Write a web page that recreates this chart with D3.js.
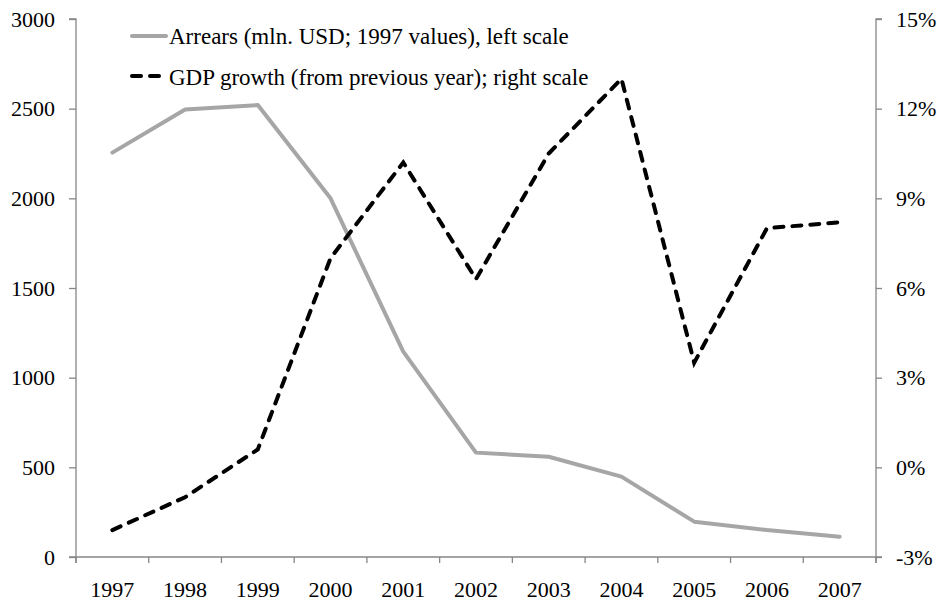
<!DOCTYPE html>
<html><head><meta charset="utf-8">
<script src="https://cdn.jsdelivr.net/npm/d3@7"></script>
<style>body{margin:0;background:#fff}svg{display:block}text{font-family:"Liberation Serif","Times New Roman",serif}</style>
</head><body>
<script>
const years = ["1997","1998","1999","2000","2001","2002","2003","2004","2005","2006","2007"];
const arrears = [2255, 2495, 2520, 2000, 1145, 582, 559, 448, 197, 150, 113];
const gdpGrowth = [-2.1, -1.0, 0.6, 7.0, 10.2, 6.3, 10.5, 13.0, 3.5, 8.0, 8.2];
const leftTicks = [0, 500, 1000, 1500, 2000, 2500, 3000];
const rightTicks = [-3, 0, 3, 6, 9, 12, 15];
const legendLabels = ["Arrears (mln. USD; 1997 values), left scale", "GDP growth (from previous year); right scale"];

const W = 937, H = 603;
const m = {l: 76, r: 876, t: 19, b: 557};
const axisColor = "#868686";
const svg = d3.select("body").append("svg").attr("width", W).attr("height", H);

const x = d3.scaleBand().domain(years).range([m.l, m.r]).padding(0);
const yL = d3.scaleLinear().domain([0, 3000]).range([m.b, m.t]);
const yR = d3.scaleLinear().domain([-3, 15]).range([m.b, m.t]);

const gL = svg.append("g").attr("transform", `translate(${m.l},0)`)
  .call(d3.axisLeft(yL).tickValues(leftTicks).tickSize(7).tickPadding(14).tickFormat(d3.format("d")));
const gR = svg.append("g").attr("transform", `translate(${m.r},0)`)
  .call(d3.axisRight(yR).tickValues(rightTicks).tickSize(6).tickPadding(14).tickFormat(d => d + "%"));
const gB = svg.append("g").attr("transform", `translate(0,${m.b})`)
  .call(d3.axisBottom(x).tickSize(0).tickPadding(24));
[gL, gR, gB].forEach(g => {
  g.select(".domain").attr("stroke", axisColor).attr("stroke-width", 1.3);
  g.selectAll(".tick line").attr("stroke", axisColor).attr("stroke-width", 1.3);
  g.selectAll("text").attr("font-size", 22).attr("fill", "#000")
   .style("font-family", '"Liberation Serif","Times New Roman",serif');
});
gL.select(".domain").attr("d", `M-7,${m.t}H0V${m.b + 6}`);
gR.select(".domain").attr("d", `M6,${m.t}H0V${m.b + 6}`);
gB.select(".domain").attr("d", `M${m.l - 7},0H${m.r + 6}`);
const edges = years.map(y => x(y)).concat([m.r]);
svg.append("g").selectAll("line").data(edges).join("line")
  .attr("x1", d => d).attr("x2", d => d).attr("y1", m.b).attr("y2", m.b + 6)
  .attr("stroke", axisColor).attr("stroke-width", 1.3);

const cx = d => x(d) + x.bandwidth() / 2;

svg.append("path").datum(years.map((y, i) => [cx(y), yL(arrears[i])]))
  .attr("d", d3.line()).attr("fill", "none").attr("stroke", "#a6a6a6")
  .attr("stroke-width", 4).attr("stroke-linejoin", "round").attr("stroke-linecap", "round");
svg.append("path").datum(years.map((y, i) => [cx(y), yR(gdpGrowth[i])]))
  .attr("d", d3.line()).attr("fill", "none").attr("stroke", "#000")
  .attr("stroke-width", 4).attr("stroke-dasharray", "9,9").attr("stroke-linecap", "round");

const lg = svg.append("g");
lg.append("line").attr("x1", 132).attr("x2", 166).attr("y1", 36).attr("y2", 36)
  .attr("stroke", "#a6a6a6").attr("stroke-width", 4).attr("stroke-linecap", "round");
lg.append("line").attr("x1", 132).attr("x2", 166).attr("y1", 76).attr("y2", 76)
  .attr("stroke", "#000").attr("stroke-width", 4).attr("stroke-dasharray", "9,9").attr("stroke-linecap", "round");
lg.selectAll("text").data(legendLabels).join("text")
  .attr("x", 169).attr("y", (d, i) => 44 + i * 41)
  .attr("font-size", 23).text(d => d);
</script>
</body></html>
